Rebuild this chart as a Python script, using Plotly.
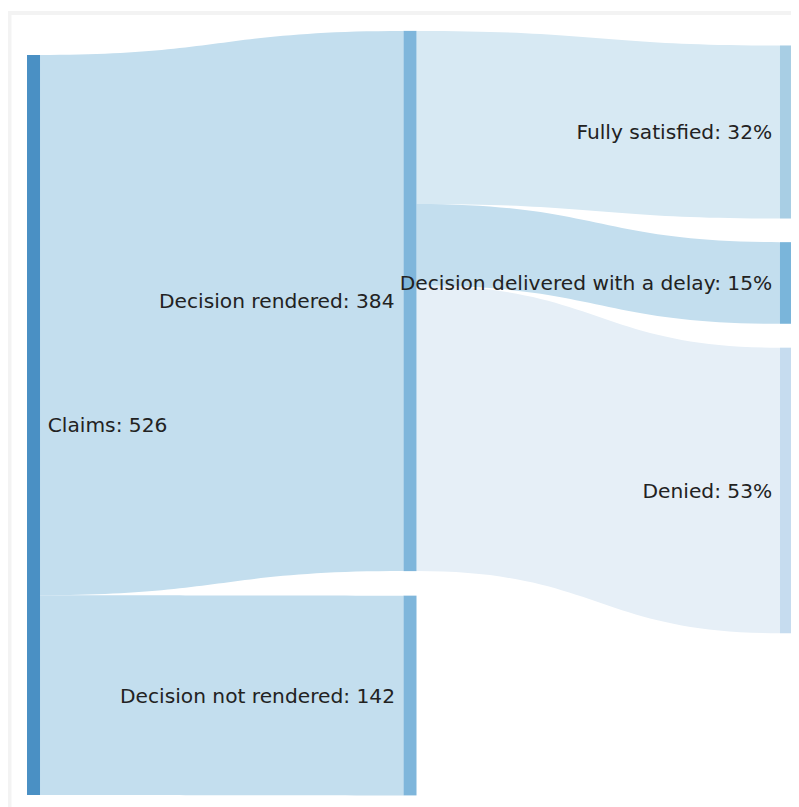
import plotly.graph_objects as go

node_labels = ["Claims: 526", "Decision rendered: 384", "Decision not rendered: 142",
               "Fully satisfied: 32%", "Decision delivered with a delay: 15%", "Denied: 53%"]
node_colors = ["#4a90c4", "#7fb6db", "#7fb6db", "#a8cee4", "#7ab5da", "#c6dcef"]
node_x = [0.0085, 0.5, 0.5, 0.9915, 0.9915, 0.9915]
node_y = [0.5157, 0.3534, 0.8698, 0.1322, 0.3298, 0.6014]
# nodes whose label sits on the left side of the node (middle column)
left_label_nodes = [1, 2]

link_source = [0, 0, 1, 1, 1]
link_target = [1, 2, 3, 4, 5]
link_value = [384, 142, 123, 58, 203]
link_colors = ["#c3deee", "#c3deee", "#d7e9f3", "#c3deee", "#e6eff7"]

W, H = 799, 807
ML, MR, MT, MB = 19, 14, 23, 20
PW, PH = W - ML - MR, H - MT - MB
THICK = 13
LINE_W = 9.5
FONT = dict(family="DejaVu Sans", size=20.2, color="#222222")

shown_labels = ["" if i in left_label_nodes else lab for i, lab in enumerate(node_labels)]

fig = go.Figure(go.Sankey(
    arrangement="fixed",
    node=dict(
        label=shown_labels,
        customdata=node_labels,
        hovertemplate="%{customdata}<extra></extra>",
        color=node_colors,
        x=node_x,
        y=node_y,
        pad=24,
        thickness=THICK,
        align="left",
        line=dict(color="rgba(255,255,255,0)", width=LINE_W),
    ),
    link=dict(
        source=link_source,
        target=link_target,
        value=link_value,
        color=link_colors,
    ),
    textfont=dict(**FONT, shadow="none"),
))

annotations = []
for i in left_label_nodes:
    x0_px = node_x[i] * PW - THICK / 2
    annotations.append(dict(
        x=(x0_px - LINE_W / 2 - 3) / PW, y=1 - node_y[i],
        xref="paper", yref="paper", xanchor="right", yanchor="middle",
        text=node_labels[i], showarrow=False, font=FONT, borderpad=0,
    ))

fig.update_layout(
    width=W, height=H,
    margin=dict(l=ML, r=MR, t=MT, b=MB),
    paper_bgcolor="white",
    annotations=annotations,
    shapes=[dict(type="rect", xref="paper", yref="paper",
                 x0=(1.5 - ML) / PW, x1=1.1,
                 y0=-0.1, y1=1 + (MT - 5) / PH,
                 line=dict(color="#f3f3f3", width=4), layer="below")],
)

fig.write_html("out.html")
